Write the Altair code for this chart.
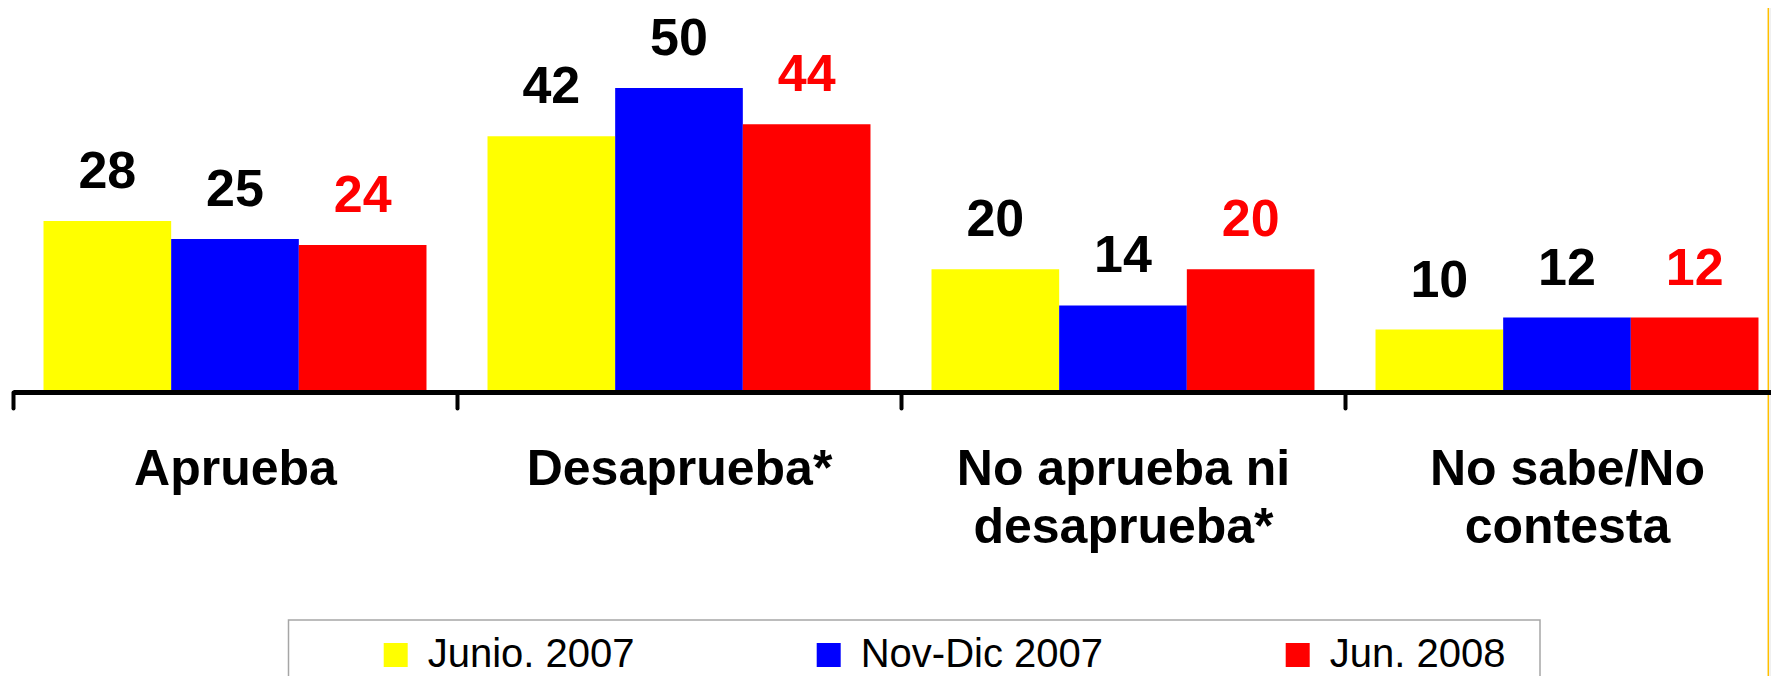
import altair as alt
import pandas as pd

categorias = ["Aprueba", "Desaprueba*", "No aprueba ni desaprueba*", "No sabe/No contesta"]
series = ["Junio. 2007", "Nov-Dic 2007", "Jun. 2008"]
junio_2007 = [28, 42, 20, 10]
novdic_2007 = [25, 50, 14, 12]
jun_2008 = [24, 44, 20, 12]
colores = ["#FFFF00", "#0000FF", "#FF0000"]

rows = []
for s, vals in zip(series, [junio_2007, novdic_2007, jun_2008]):
    for c, v in zip(categorias, vals):
        rows.append({"categoria": c, "serie": s, "valor": v})
df = pd.DataFrame(rows)

FONT = "Liberation Sans"

label_expr = (
    "lastindexof(datum.label, ' ') < 0 || length(datum.label) < 14 ? datum.label : "
    "[slice(datum.label, 0, lastindexof(datum.label, ' ')), "
    "slice(datum.label, lastindexof(datum.label, ' ') + 1)]"
)

x_enc = alt.X(
    "categoria:N",
    sort=categorias,
    scale=alt.Scale(domain=categorias, range=[0, 1776], paddingInner=0, paddingOuter=0),
    axis=alt.Axis(
        title=None, labelAngle=0, labelFont=FONT, labelFontSize=50, labelFontWeight="bold",
        labelColor="black", labelLimit=0, labelPadding=36, labelLineHeight=58,
        labelExpr=label_expr, domainColor="black", domainWidth=5, tickColor="black",
        tickWidth=4, tickSize=16, tickCap="round", tickBand="extent", offset=2,
        zindex=1, grid=False,
    ),
)
xo_enc = alt.XOffset("serie:N", sort=series,
                     scale=alt.Scale(domain=series, paddingInner=0, paddingOuter=0.239))
y_enc = alt.Y("valor:Q", scale=alt.Scale(domain=[0, 63.25], nice=False, zero=True), axis=None)

bars = alt.Chart(df).mark_bar().encode(
    x=x_enc,
    xOffset=xo_enc,
    y=y_enc,
    color=alt.Color(
        "serie:N",
        sort=series,
        scale=alt.Scale(domain=series, range=colores),
        legend=alt.Legend(
            title=None, orient="none", legendX=362.7, legendY=627, direction="horizontal",
            symbolType="square", symbolSize=576, symbolStrokeWidth=0, symbolOpacity=1,
            labelFont=FONT, labelFontSize=40, labelColor="black", labelOffset=12,
            labelLimit=0, columnPadding=174, padding=0,
        ),
    ),
)

texts = alt.Chart(df).mark_text(
    dy=-33, baseline="alphabetic", align="center", fontSize=52, fontWeight="bold", font=FONT
).encode(
    x=x_enc,
    xOffset=xo_enc,
    y=y_enc,
    text=alt.Text("valor:Q"),
    color=alt.condition(alt.datum.serie == "Jun. 2008", alt.value("#FF0000"), alt.value("#000000")),
)

one = pd.DataFrame({"k": [0]})

strip = alt.Chart(one).mark_rect(fill="#F0F0F0").encode(
    x=alt.value(1756.3), x2=alt.value(1770), y=alt.value(-10), y2=alt.value(700)
)
frame = alt.Chart(one).mark_rect(fill="transparent", stroke="#A6A6A6", strokeWidth=1.5).encode(
    x=alt.value(275.5), x2=alt.value(1527), y=alt.value(612), y2=alt.value(720)
)
edge = alt.Chart(one).mark_rule(color="#FFC000", strokeWidth=1.5).encode(
    x=alt.value(1755.3), y=alt.value(-10), y2=alt.value(700)
)

chart = alt.layer(strip, bars, texts, frame, edge).properties(
    width=1755,
    height=382,
    padding={"left": 5, "top": 0, "right": 3, "bottom": 286},
    autosize=alt.AutoSizeParams(type="none"),
).configure_view(stroke=None)

chart.save("out.html", embed_options={"renderer": "svg", "actions": False})
